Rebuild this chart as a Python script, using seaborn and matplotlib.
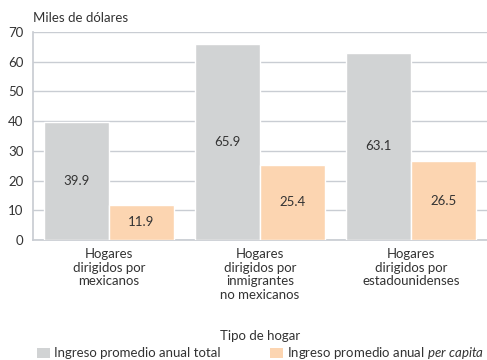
import matplotlib
matplotlib.use("Agg")
import matplotlib.pyplot as plt
import seaborn as sns
import pandas as pd
from matplotlib.patches import Patch

categories = [
    "Hogares\ndirigidos por\nmexicanos",
    "Hogares\ndirigidos por\ninmigrantes\nno mexicanos",
    "Hogares\ndirigidos por\nestadounidenses",
]
series_names = ["total", "per_capita"]
ingreso_total = [39.9, 65.9, 63.1]
ingreso_per_capita = [11.9, 25.4, 26.5]
y_ticks = [0, 10, 20, 30, 40, 50, 60, 70]

GRAY = "#d1d3d4"
PEACH = "#fcd5b1"
GRID = "#c9cdd3"
TEXT = "#333333"
FS = 9.5

sns.set_theme(style="white")
plt.rcParams["font.family"] = ["Lato", "DejaVu Sans"]
plt.rcParams["mathtext.fontset"] = "custom"
plt.rcParams["mathtext.rm"] = "Lato"
plt.rcParams["mathtext.it"] = "Lato:italic"

df = pd.DataFrame({
    "categoria": categories * 2,
    "serie": [series_names[0]] * 3 + [series_names[1]] * 3,
    "valor": ingreso_total + ingreso_per_capita,
})

fig = plt.figure(figsize=(4.87, 3.6), dpi=100)
ax = fig.add_axes([0.068, 0.333, 0.932, 0.578])

sns.barplot(
    data=df, x="categoria", y="valor", hue="serie",
    hue_order=series_names, order=categories,
    palette=[GRAY, PEACH], width=0.86, gap=0, saturation=1,
    legend=False, ax=ax, zorder=3,
)

ax.set_ylim(0, 70)
ax.set_xlim(-0.5, 2.5)
ax.set_yticks(y_ticks)
ax.yaxis.grid(True, color=GRID, linewidth=1, zorder=0)
ax.set_axisbelow(True)
for side in ["top", "right"]:
    ax.spines[side].set_visible(False)
ax.spines["left"].set_color(GRID)
ax.spines["bottom"].set_color(GRID)
ax.tick_params(axis="both", length=0, labelsize=FS, colors=TEXT)
ax.tick_params(axis="x", pad=6)
ax.tick_params(axis="y", pad=7)
for lbl in ax.get_xticklabels():
    lbl.set_linespacing(1.15)

ax.set_ylabel("")
ax.set_xlabel("Tipo de hogar", fontsize=FS, color=TEXT, labelpad=21)

for cont in ax.containers:
    for bar, v in zip(cont, cont.datavalues):
        ax.text(bar.get_x() + bar.get_width() / 2, v / 2, f"{v:.1f}",
                ha="center", va="center", fontsize=FS, color=TEXT, zorder=4)

fig.text(0.068, 0.95, "Miles de dólares", fontsize=FS, color=TEXT,
         ha="left", va="center")

handles = [Patch(facecolor=GRAY, edgecolor="none"),
           Patch(facecolor=PEACH, edgecolor="none")]
fig.legend(handles,
           ["Ingreso promedio anual total",
            "Ingreso promedio anual $\\it{per\\ capita}$"],
           loc="lower left", bbox_to_anchor=(0.063, -0.022), ncol=2,
           frameon=False, fontsize=FS, handlelength=1.0, handleheight=0.8,
           handletextpad=0.3, columnspacing=3.7, borderpad=0,
           labelcolor=TEXT)

fig.savefig("out.png", dpi=100)
